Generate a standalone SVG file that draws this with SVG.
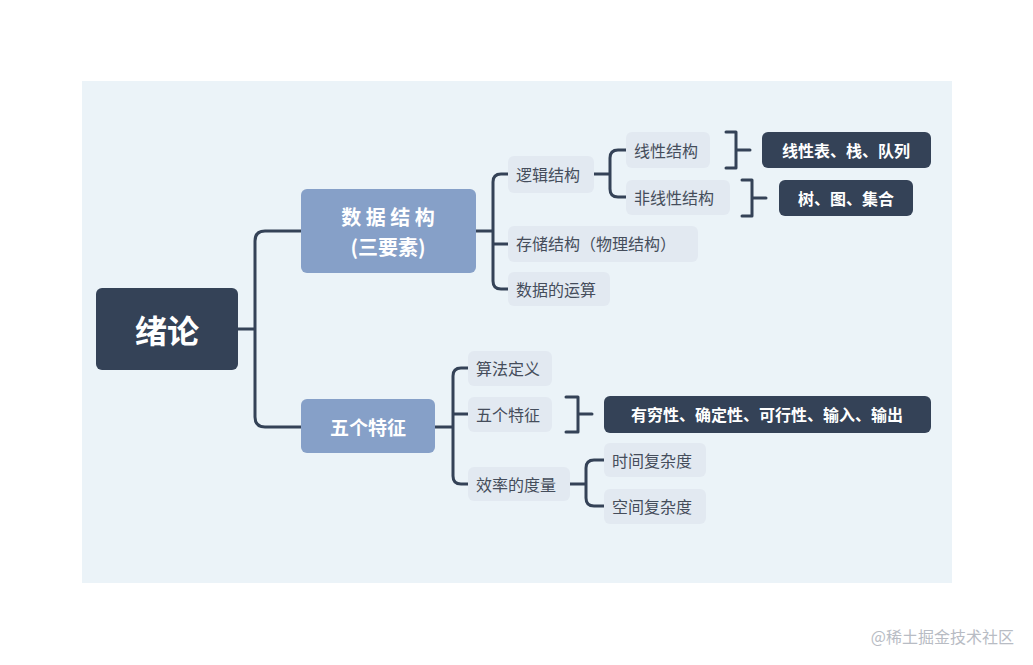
<svg xmlns="http://www.w3.org/2000/svg" width="1033" height="665" viewBox="0 0 1033 665">
<style>
text{font-family:"Noto Sans CJK SC","Noto Sans",sans-serif;dominant-baseline:central}
.s rect{fill:#e2e9f1}
.s text{fill:#454d5b;font-size:16px}
.d rect{fill:#344257}
.d text{fill:#fff;font-size:16px;font-weight:bold;text-anchor:middle}
.m rect{fill:#86a0c8}
.m text{fill:#fff;font-weight:bold;text-anchor:middle}
#conn path{fill:none;stroke:#344257;stroke-width:3;stroke-linecap:round;stroke-linejoin:round}
</style>
<rect width="1033" height="665" fill="#fff"/>
<rect x="82" y="81" width="870" height="502" fill="#ebf3f8"/>
<g id="conn">
<path d="M238 329H255M301 231H265Q255 231 255 241V417Q255 427 265 427H301"/>
<path d="M476 231H493M508 174H501Q493 174 493 182V281Q493 289 501 289H508M493 244H508"/>
<path d="M594 174H610M626 150H618Q610 150 610 158V189Q610 197 618 197H626"/>
<path d="M726 132H736V168H726M736 150H750"/>
<path d="M742 180H752V216H742M752 198H766"/>
<path d="M435 427H453M468 368H461Q453 368 453 376V476Q453 484 461 484H468M453 414H468"/>
<path d="M566 397H578V432H566M578 414H592"/>
<path d="M570 484H586M604 460H594Q586 460 586 468V498Q586 506 594 506H604"/>
</g>
<g id="root" class="d"><rect x="96" y="288" width="142" height="82" rx="6"/><text x="167" y="329" style="font-size:32px">绪论</text></g>
<g id="ds" class="m"><rect x="301" y="189" width="175" height="84" rx="6"/><text x="388" y="216" font-size="20">数 据 结 构</text><text x="388" y="246" font-size="20">(三要素)</text></g>
<g id="wg" class="m"><rect x="301" y="399" width="134" height="54" rx="6"/><text x="368" y="426" font-size="19">五个特征</text></g>
<g id="ljjg" class="s"><rect x="508" y="156" width="86" height="37" rx="6"/><text x="516" y="174">逻辑结构</text></g>
<g id="ccjg" class="s"><rect x="508" y="226" width="190" height="36" rx="6"/><text x="516" y="243">存储结构（物理结构）</text></g>
<g id="sjys" class="s"><rect x="508" y="272" width="102" height="34" rx="6"/><text x="516" y="289">数据的运算</text></g>
<g id="xxjg" class="s"><rect x="626" y="132" width="84" height="36" rx="6"/><text x="634" y="150">线性结构</text></g>
<g id="fxxjg" class="s"><rect x="626" y="180" width="104" height="35" rx="6"/><text x="634" y="197">非线性结构</text></g>
<g id="sfdy" class="s"><rect x="468" y="351" width="84" height="35" rx="6"/><text x="476" y="368">算法定义</text></g>
<g id="wgtz" class="s"><rect x="468" y="397" width="84" height="35" rx="6"/><text x="476" y="414">五个特征</text></g>
<g id="xldl" class="s"><rect x="468" y="467" width="102" height="34" rx="6"/><text x="476" y="484">效率的度量</text></g>
<g id="sj" class="s"><rect x="604" y="443" width="102" height="34" rx="6"/><text x="612" y="460">时间复杂度</text></g>
<g id="kj" class="s"><rect x="604" y="489" width="102" height="35" rx="6"/><text x="612" y="506">空间复杂度</text></g>
<g id="xxb" class="d"><rect x="762" y="132" width="169" height="36" rx="6"/><text x="846" y="150">线性表、栈、队列</text></g>
<g id="stjh" class="d"><rect x="779" y="180" width="134" height="36" rx="6"/><text x="846" y="198">树、图、集合</text></g>
<g id="yqx" class="d"><rect x="604" y="396" width="327" height="37" rx="6"/><text x="767" y="414">有穷性、确定性、可行性、输入、输出</text></g>
<text x="1014" y="636" text-anchor="end" fill="#b8bcc4" font-size="16">@稀土掘金技术社区</text>
</svg>
